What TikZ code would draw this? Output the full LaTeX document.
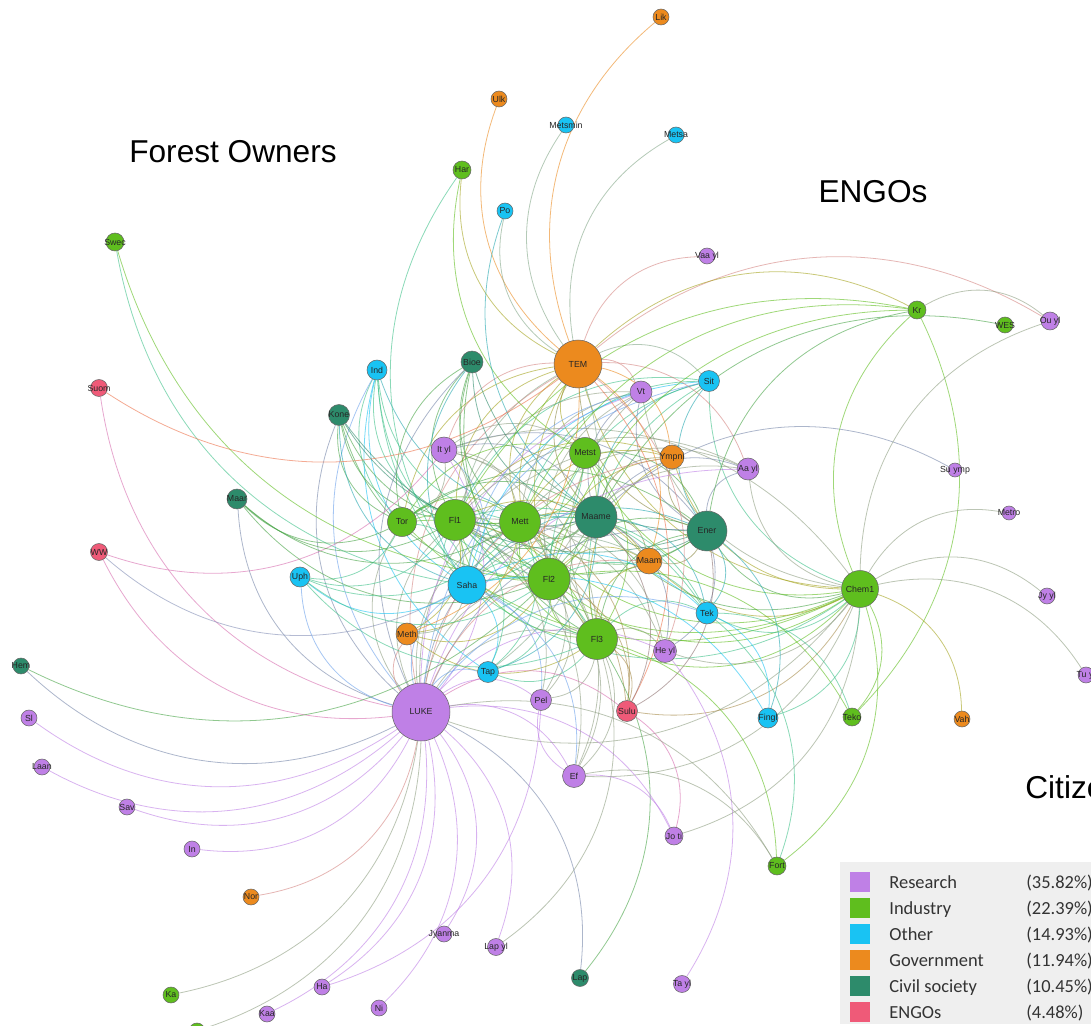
\documentclass[tikz,border=0pt]{standalone}
\usepackage{fontspec}
\setmainfont{Liberation Sans}
\newfontfamily\legfont{Carlito}

% sector colours
\definecolor{res}{HTML}{BF80E6}
\definecolor{ind}{HTML}{5FBE1E}
\definecolor{oth}{HTML}{19C3F3}
\definecolor{gov}{HTML}{EC8A1E}
\definecolor{civ}{HTML}{2D8B6B}
\definecolor{eng}{HTML}{EF5A78}
\definecolor{legbg}{HTML}{EFEFEF}

\pgfdeclarelayer{paper}
\pgfdeclarelayer{edges}
\pgfsetlayers{paper,edges,main}

\tikzset{
  netnode/.style={circle, draw=black!60, line width=0.3pt, inner sep=0pt,
    font=\fontsize{5}{5}\selectfont, text=black!85},
  edge/.style={line width=0.45pt, opacity=0.6},
  bigtag/.style={font=\fontsize{18}{20}\selectfont, inner sep=0pt, anchor=base},
  legtext/.style={font=\legfont\fontsize{10.5}{12}\selectfont, text=black!80,
    inner sep=0pt, anchor=base west},
}

% \netnd{id}{x px}{y px}{radius px}{colour}{label}
% the label sits in a zero-width box so the disc keeps its own size
\newcommand\netnd[6]{%
  \node[netnode, fill=#5, minimum size=#4*0.04cm] (#1) at (#2,-#3) {\makebox[0pt][c]{#6}};%
  \expandafter\gdef\csname nc@#1\endcsname{#5}}

% curved link coloured by the mix of its two end colours
\newcommand\netedge[2]{%
  \edef\ecA{\csname nc@#1\endcsname}\edef\ecB{\csname nc@#2\endcsname}%
  \colorlet{ecol}{\ecA!50!\ecB}%
  \draw[edge, ecol] (#1) to[bend right=35] (#2);}

\begin{document}
\begin{tikzpicture}[x=0.02cm, y=0.02cm]
\useasboundingbox (0,0) rectangle (1091,-1026);
\begin{pgfonlayer}{paper}
  \fill[white] (0,0) rectangle (1091,-1026);
\end{pgfonlayer}
\clip (0,0) rectangle (1091,-1026);

% ---- actors ----
\netnd{lik}{661}{17}{8}{gov}{Lik}
\netnd{ulk}{499}{99}{8}{gov}{Ulk}
\netnd{metsmin}{566}{125}{8}{oth}{Metsmin}
\netnd{metsa}{676}{135}{8}{oth}{Metsa}
\netnd{har}{462}{170}{9}{ind}{Har}
\netnd{po}{505}{211}{8}{oth}{Po}
\netnd{vaayl}{707}{256}{8}{res}{Vaa yl}
\netnd{swec}{115}{242}{9}{ind}{Swec}
\netnd{tem}{578}{364}{24}{gov}{TEM}
\netnd{kr}{917}{310}{9}{ind}{Kr}
\netnd{wes}{1005}{325}{8}{ind}{WES}
\netnd{ouyl}{1050}{321}{9}{res}{Ou yl}
\netnd{ind}{377}{370}{10}{oth}{Ind}
\netnd{bioe}{472}{362}{11}{civ}{Bioe}
\netnd{vt}{641}{392}{11}{res}{Vt}
\netnd{sit}{709}{381}{10.5}{oth}{Sit}
\netnd{suom}{99}{388}{8.5}{eng}{Suom}
\netnd{kone}{339}{415}{10.5}{civ}{Kone}
\netnd{ityl}{444}{450}{13}{res}{It yl}
\netnd{metst}{585}{453}{15.5}{ind}{Metst}
\netnd{ympni}{672}{457}{12}{gov}{Ympni}
\netnd{aayl}{748}{469}{11}{res}{Aa yl}
\netnd{suymp}{955}{470}{7}{res}{Su ymp}
\netnd{maar}{237}{499}{10}{civ}{Maar}
\netnd{tor}{402}{522}{14.5}{ind}{Tor}
\netnd{fla}{455}{520}{20.5}{ind}{Fl1}
\netnd{mett}{520}{522}{20.5}{ind}{Mett}
\netnd{maame}{596}{517}{21}{civ}{Maame}
\netnd{ener}{707}{531}{20}{civ}{Ener}
\netnd{metro}{1009}{513}{7}{res}{Metro}
\netnd{ww}{99}{552}{8.5}{eng}{WW}
\netnd{uph}{300}{577}{10}{oth}{Uph}
\netnd{saha}{467}{585}{19}{oth}{Saha}
\netnd{flb}{549}{579}{21}{ind}{Fl2}
\netnd{maam}{649}{561}{13}{gov}{Maam}
\netnd{chem}{860}{589}{18.5}{ind}{Chem1}
\netnd{jyyl}{1047}{596}{8}{res}{Jy yl}
\netnd{tek}{707}{613}{11}{oth}{Tek}
\netnd{meth}{407}{634}{11}{gov}{Meth}
\netnd{flc}{597}{639}{20.5}{ind}{Fl3}
\netnd{heyl}{665}{651}{11.5}{res}{He yl}
\netnd{hem}{21}{666}{8}{civ}{Hem}
\netnd{tap}{488}{672}{10.5}{oth}{Tap}
\netnd{tuyl}{1086}{675}{8}{res}{Tu yl}
\netnd{luke}{421}{712}{29}{res}{LUKE}
\netnd{pel}{541}{700}{10.5}{res}{Pel}
\netnd{sulu}{627}{711}{10.5}{eng}{Sulu}
\netnd{fingl}{768}{718}{10}{oth}{Fingl}
\netnd{teko}{852}{717}{9}{ind}{Teko}
\netnd{vah}{962}{719}{8}{gov}{Vah}
\netnd{sl}{29}{718}{8}{res}{Sl}
\netnd{laan}{42}{767}{8}{res}{Laan}
\netnd{ef}{574}{776}{11.5}{res}{Ef}
\netnd{sav}{127}{807}{8}{res}{Sav}
\netnd{joti}{674}{836}{9}{res}{Jo ti}
\netnd{fort}{777}{866}{9}{ind}{Fort}
\netnd{inn}{192}{849}{8}{res}{In}
\netnd{nor}{251}{897}{8}{gov}{Nor}
\netnd{jyanma}{444}{934}{8}{res}{Jyanma}
\netnd{lapyl}{496}{947}{8.5}{res}{Lap yl}
\netnd{lap}{580}{978}{8.5}{civ}{Lap}
\netnd{tayl}{682}{984}{8.5}{res}{Ta yl}
\netnd{ha}{322}{987}{8}{res}{Ha}
\netnd{ni}{379}{1008}{8}{res}{Ni}
\netnd{ka}{171}{995}{8}{ind}{Ka}
\netnd{kaa}{267}{1014}{8}{res}{Kaa}
\netnd{kx}{197}{1031}{8}{ind}{}

% ---- links ----
\begin{pgfonlayer}{edges}
% dense core
\foreach \a [count=\i] in {tem,fla,mett,maame,ener,flb,flc,saha,metst,tor,luke,chem,ityl}{
  \foreach \b [count=\j] in {tem,fla,mett,maame,ener,flb,flc,saha,metst,tor,luke,chem,ityl}{
    \ifnum\j>\i\relax\netedge{\a}{\b}\fi}}
% second ring
\foreach \s/\hl in {
  ind/{fla,mett,saha,tor,flb,flc,luke,maame,tap},
  bioe/{fla,mett,saha,flb,flc,tor,luke,ener,maame},
  kone/{tor,fla,mett,saha,flb,luke,maame,ener},
  vt/{tem,fla,mett,maame,flb,flc,luke,ener,chem,saha},
  sit/{tem,maame,ener,fla,mett,flb,flc,chem,saha,luke},
  ympni/{tem,maame,fla,mett,flb,ener,flc,chem,luke},
  aayl/{ener,maame,chem,fla,mett,flb,luke,tem},
  maam/{fla,mett,flb,flc,ener,maame,tem,luke,saha,chem},
  tek/{ener,chem,flb,flc,mett,fla,maame,luke,saha},
  heyl/{flc,luke,mett,fla,maame,ener,chem,tem},
  meth/{luke,fla,mett,saha,flb,flc,tem},
  tap/{luke,fla,mett,saha,flb,flc,maame,tem},
  pel/{luke,fla,mett,flb,flc,saha,ef},
  sulu/{luke,flc,flb,mett,fla,tem,chem,ener,maame},
  ef/{luke,flc,flb,saha,fla,mett,chem}}{
  \foreach \h in \hl {\netedge{\s}{\h}}}
% outer actors
\foreach \a/\b in {lik/tem, ulk/tem, metsmin/tem, metsa/tem, vaayl/tem,
  har/tem, har/metst, har/saha, po/tem, po/maame, swec/saha, swec/flb,
  suom/tem, suom/luke, ww/ityl, ww/saha, ww/luke,
  maar/tor, maar/fla, maar/mett, maar/flb, maar/luke,
  uph/tor, uph/fla, uph/saha, uph/mett, uph/flb, uph/flc, uph/luke,
  hem/flb, hem/luke, sl/luke, laan/luke, sav/luke, inn/luke, nor/luke,
  ka/luke, kaa/luke, kx/luke, ha/luke, ha/pel, ni/luke, jyanma/luke,
  lapyl/luke, lapyl/flc, lap/luke, lap/flc, tayl/heyl,
  joti/ef, joti/luke, joti/sulu, joti/chem,
  fort/chem, fort/ef, fort/tek, fort/flc, fort/luke,
  teko/chem, teko/kr, teko/flb, teko/tek,
  fingl/chem, fingl/tek, fingl/saha, fingl/ener,
  vah/chem, tuyl/chem, jyyl/chem, metro/chem, suymp/maame,
  ouyl/tem, ouyl/chem, ouyl/kr, wes/maame,
  kr/tem, kr/chem, kr/fla, kr/mett, kr/ener, kr/flb}{
  \netedge{\a}{\b}}
\end{pgfonlayer}

% ---- group captions ----
\node[bigtag] (capfo) at (233,-163) {Forest Owners};
\node[bigtag] (capen) at (873,-203) {ENGOs};
\node[bigtag, anchor=base west] (capci) at (1025,-798) {Citizens};

% ---- legend ----
\fill[legbg] (840,-862) rectangle (1091,-1024);
\foreach \c/\t/\p [count=\k from 0] in {res/Research/(35.82\%),
  ind/Industry/(22.39\%), oth/Other/(14.93\%), gov/Government/(11.94\%),
  civ/Civil society/(10.45\%), eng/ENGOs/(4.48\%)}{
  \pgfmathsetmacro\yc{882+26*\k}
  \fill[\c] (850,-\yc+10) rectangle (870,-\yc-10);
  \node[legtext] (leg\k) at (889,-\yc-6) {\t};
  \node[legtext] (pct\k) at (1026,-\yc-6) {\p};
}
\end{tikzpicture}
\end{document}
